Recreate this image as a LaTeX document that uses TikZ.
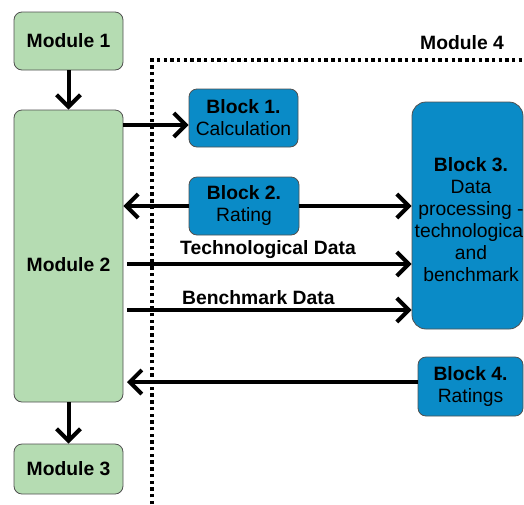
\documentclass[tikz,border=0pt]{standalone}
\usepackage{fontspec}
\setmainfont{Liberation Sans}
\usetikzlibrary{arrows.meta}
\definecolor{modgreen}{RGB}{181,220,178}
\definecolor{blkblue}{RGB}{10,139,199}
\definecolor{bordergray}{RGB}{80,80,80}
\begin{document}
\begin{tikzpicture}[x=1pt,y=-1pt,
  font=\fontsize{19.3}{22}\selectfont,
  module/.style={draw=bordergray, line width=0.8pt, fill=modgreen, rounded corners=8pt, inner sep=0pt, minimum width=109pt},
  blk/.style={draw=bordergray, line width=0.8pt, fill=blkblue, rounded corners=8pt, inner sep=0pt, align=center},
  arr/.style={line width=4pt, -{Straight Barb[length=12pt,width=24pt]}},
  dotline/.style={line width=3.5pt, dash pattern=on 3.4pt off 3.3pt}]
\useasboundingbox (0,0) rectangle (524,504);
\clip (0,0) rectangle (524,504);
% Module 4 frame
\coordinate (c1) at (152,504);
\coordinate (c2) at (152,60);
\coordinate (c3) at (530,60);
\draw[dotline] (c1) -- (c2) -- (c3);
\node[font=\fontsize{19.3}{22}\selectfont\bfseries] (m4) at (462,43) {Module 4};
% modules
\node[module, minimum height=58pt] (m1) at (68.5,41) {\bfseries Module 1};
\node[module, minimum height=292pt] (m2) at (68.5,256) {};
\node[font=\fontsize{19.3}{22}\selectfont\bfseries] (m2t) at (68.5,265) {Module 2};
\node[module, minimum height=50pt] (m3) at (68.5,469) {\bfseries Module 3};
% blocks
\node[blk, minimum width=109pt, minimum height=58pt] (b1) at (243.5,118) {\textbf{Block 1.}\\Calculation};
\node[blk, minimum width=110pt, minimum height=58pt] (b2) at (244,206) {\textbf{Block 2.}\\Rating};
\node[blk, rounded corners=14pt, minimum width=111pt, minimum height=227pt] (b3) at (467.5,215.5) {};
\node[align=center] (b3t) at (471,220) {\textbf{Block 3.}\\Data\\processing -\\technological\\and\\benchmark};
\node[blk, minimum width=105pt, minimum height=59pt] (b4) at (470.5,386.5) {\textbf{Block 4.}\\Ratings};
% arrows
\draw[arr] (m1.south) -- (m2.north);
\draw[arr] (m2.south) -- (m3.north);
\draw[arr] (m2.east |- 0,125) -- (b1.west |- 0,125);
\draw[arr] (b2.west) -- (m2.east |- b2.west);
\draw[arr] (b2.east) -- (b3.west |- b2.east);
\coordinate (t1) at (127,264);
\coordinate (t2) at (127,310);
\draw[arr] (t1) -- (b3.west |- t1) node[pos=0.18, anchor=south west, font=\fontsize{19.3}{22}\selectfont\bfseries, inner sep=3pt, xshift=-3pt] (td) {Technological Data};
\draw[arr] (t2) -- (b3.west |- t2) node[pos=0.18, anchor=south west, font=\fontsize{19.3}{22}\selectfont\bfseries, inner sep=3pt, xshift=-1pt] (bd) {Benchmark Data};
\coordinate (t3) at (127,382);
\draw[arr] (b4.west |- t3) -- (t3);
\end{tikzpicture}
\end{document}
